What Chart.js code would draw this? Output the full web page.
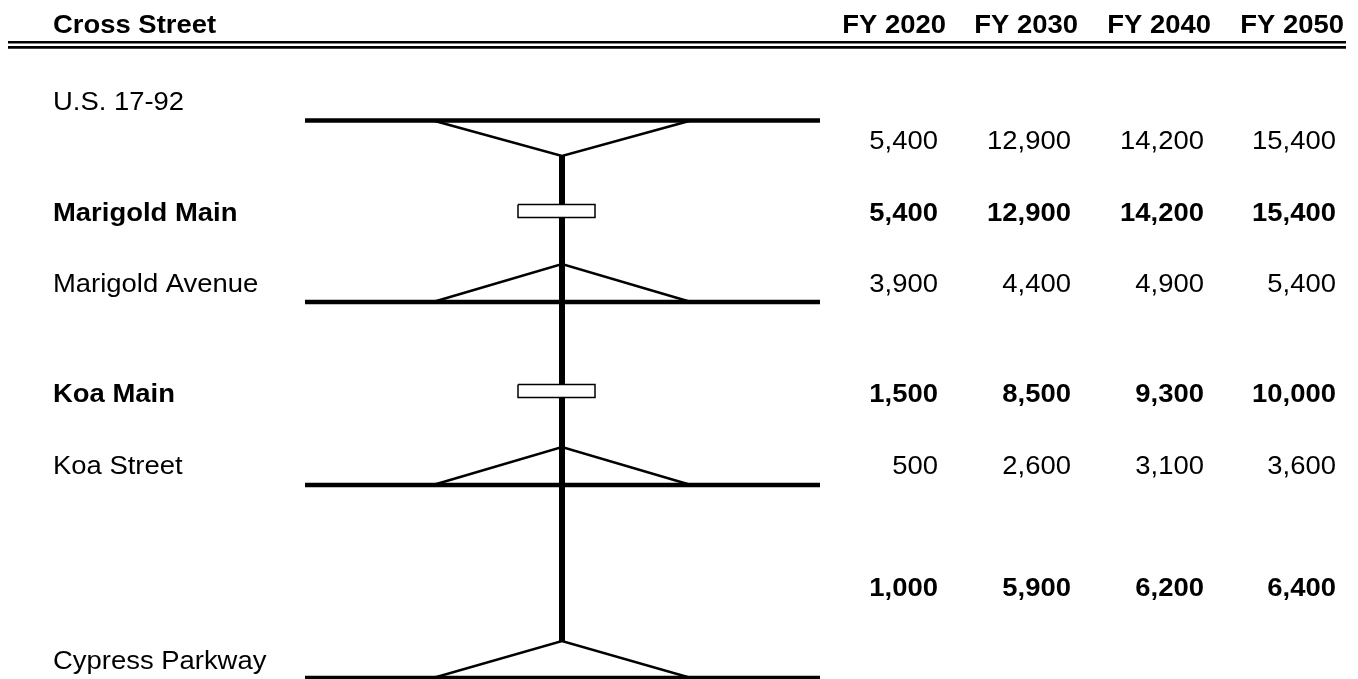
<!DOCTYPE html>
<html>
<head>
<meta charset="utf-8">
<script src="https://cdn.jsdelivr.net/npm/chart.js@4/dist/chart.umd.min.js"></script>
<style>
  html, body { margin: 0; padding: 0; background: #fff; }
  canvas { display: block; }
</style>
</head>
<body>
<canvas id="grafico" width="1358" height="679"></canvas>
<script>
// Datos: volúmenes diarios por tramo
const cruces = ['U.S. 17-92', 'Marigold Main', 'Marigold Avenue', 'Koa Main', 'Koa Street', '', 'Cypress Parkway'];
const anios = ['FY 2020', 'FY 2030', 'FY 2040', 'FY 2050'];
const fy2020 = [5400, 5400, 3900, 1500, 500, 1000];
const fy2030 = [12900, 12900, 4400, 8500, 2600, 5900];
const fy2040 = [14200, 14200, 4900, 9300, 3100, 6200];
const fy2050 = [15400, 15400, 5400, 10000, 3600, 6400];
const filasNegrita = [false, true, false, true, false, true];

// Esquema (en unidades de los ejes, 1 unidad = 1 px)
const yCruces = [110, 221, 292, 402, 474, null, 669];
const cruceNegrita = [false, true, false, true, false, false, false];
const yValores = [149, 221, 292, 402, 474, 596];
const xValores = [938, 1071, 1204, 1336];
const xAnios = [946, 1078, 1211, 1344];
const xEje = 562;
const vias = [
  { y: 120.5, vertice: 156 },
  { y: 302, vertice: 264 },
  { y: 485, vertice: 447 },
  { y: 678, vertice: 641 }
];
const pasos = [211, 391];

const negro = '#000';
const estiramiento = 1.055; // el texto original es algo más ancho
const datasets = [];

// pasos a desnivel (rectángulos blancos, encima del eje)
pasos.forEach(yc => {
  datasets.push({
    data: [
      { x: 518, y: yc - 6.5 }, { x: 595, y: yc - 6.5 },
      { x: 595, y: yc + 6.5 }, { x: 518, y: yc + 6.5 }, { x: 518, y: yc - 6.5 }
    ],
    borderColor: negro, borderWidth: 1.5, backgroundColor: '#fff',
    fill: 'shape', order: 0
  });
});

// eje principal
datasets.push({
  data: [{ x: xEje, y: vias[0].vertice }, { x: xEje, y: vias[3].vertice }],
  borderColor: negro, borderWidth: 6, order: 1
});

// vías transversales y rampas
vias.forEach(v => {
  datasets.push({
    data: [{ x: 305, y: v.y }, { x: 820, y: v.y }],
    borderColor: negro, borderWidth: 4.5, order: 2
  });
  datasets.push({
    data: [{ x: 433, y: v.y }, { x: xEje, y: v.vertice }, { x: 691, y: v.y }],
    borderColor: negro, borderWidth: 2.5, order: 3
  });
});

// doble línea del encabezado
[42.3, 47.4].forEach(y => {
  datasets.push({
    data: [{ x: 8, y: y }, { x: 1346, y: y }],
    borderColor: negro, borderWidth: 2.6, order: 4
  });
});

const fuente = (negrita) => (negrita ? 'bold ' : '') + '26px "Liberation Sans", Arial, sans-serif';

function texto(ctx, t, x, y, alinear) {
  ctx.save();
  ctx.translate(x, y);
  ctx.scale(estiramiento, 1);
  ctx.textAlign = alinear;
  ctx.fillText(t, 0, 0);
  ctx.restore();
}

const textos = {
  id: 'textos',
  afterDraw(chart) {
    const ctx = chart.ctx;
    const sx = chart.scales.x, sy = chart.scales.y;
    ctx.save();
    ctx.fillStyle = negro;
    ctx.textBaseline = 'alphabetic';

    // encabezado
    ctx.font = fuente(true);
    texto(ctx, 'Cross Street', sx.getPixelForValue(53), sy.getPixelForValue(33), 'left');
    anios.forEach((a, i) => texto(ctx, a, sx.getPixelForValue(xAnios[i]), sy.getPixelForValue(33), 'right'));

    // nombres de calles
    cruces.forEach((c, i) => {
      if (!c) return;
      ctx.font = fuente(cruceNegrita[i]);
      texto(ctx, c, sx.getPixelForValue(53), sy.getPixelForValue(yCruces[i]), 'left');
    });

    // volúmenes
    const columnas = [fy2020, fy2030, fy2040, fy2050];
    yValores.forEach((y, f) => {
      ctx.font = fuente(filasNegrita[f]);
      columnas.forEach((col, c) => {
        texto(ctx, col[f].toLocaleString('en-US'), sx.getPixelForValue(xValores[c]), sy.getPixelForValue(y), 'right');
      });
    });
    ctx.restore();
  }
};

new Chart(document.getElementById('grafico'), {
  type: 'scatter',
  data: {
    datasets: datasets.map(d => Object.assign({ showLine: true, pointRadius: 0, fill: false }, d))
  },
  options: {
    responsive: false,
    devicePixelRatio: 1,
    animation: false,
    layout: { padding: 0 },
    plugins: { legend: { display: false }, tooltip: { enabled: false } },
    elements: { line: { tension: 0, borderCapStyle: 'butt', borderJoinStyle: 'miter' } },
    scales: {
      x: { type: 'linear', min: 0, max: 1358, display: false },
      y: { type: 'linear', min: 0, max: 679, reverse: true, display: false }
    }
  },
  plugins: [textos]
});
</script>
</body>
</html>
